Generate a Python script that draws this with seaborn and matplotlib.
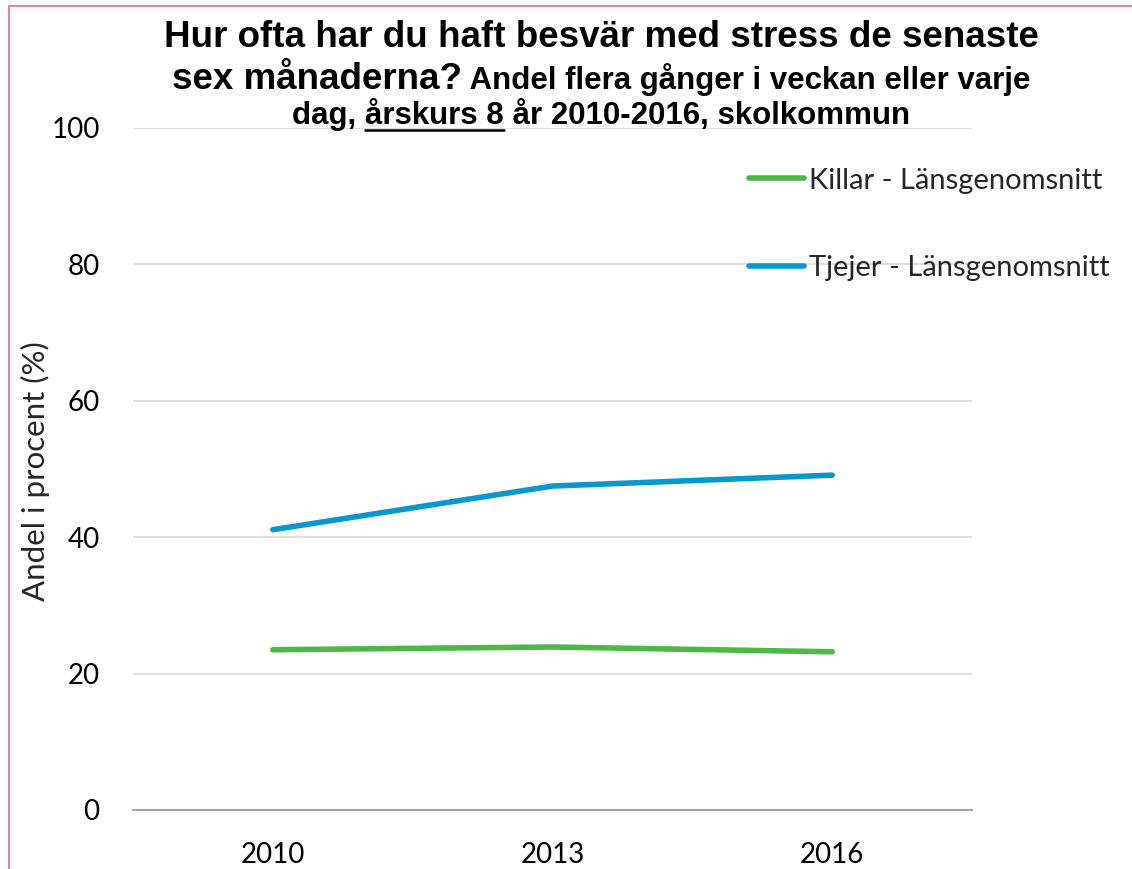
import matplotlib
matplotlib.use('Agg')
import matplotlib.pyplot as plt
import seaborn as sns
import pandas as pd
from matplotlib.lines import Line2D

# Data
years = ['2010', '2013', '2016']
killar = [23.5, 23.9, 23.2]
tjejer = [41.1, 47.5, 49.1]
series_names = ['Killar - Länsgenomsnitt', 'Tjejer - Länsgenomsnitt']
colors = ['#4DB848', '#0798CE']
y_ticks = [0, 20, 40, 60, 80, 100]

df = pd.DataFrame({
    'År': years * 2,
    'Andel': killar + tjejer,
    'Grupp': [series_names[0]] * len(years) + [series_names[1]] * len(years),
})

sns.set_theme(style='white')
plt.rcParams['font.family'] = ['Lato', 'DejaVu Sans']

W, H = 1132, 869
fig = plt.figure(figsize=(W / 100, H / 100), dpi=100)
ax = fig.add_axes([133 / W, 1 - 810 / H, (972 - 133) / W, (810 - 128) / H])

sns.lineplot(data=df, x='År', y='Andel', hue='Grupp', palette=colors,
             linewidth=4, sort=False, ax=ax, legend=False)

ax.set_xlim(-0.5, len(years) - 0.5)
ax.set_ylim(0, 100)
ax.set_yticks(y_ticks)
ax.set_xticks(range(len(years)))
ax.set_xticklabels(years)
ax.set_xticks([i - 0.5 for i in range(len(years) + 1)], minor=True)
ax.yaxis.grid(True, color='#d9d9d9', linewidth=1.2)
ax.set_axisbelow(True)
for s in ['left', 'top', 'right']:
    ax.spines[s].set_visible(False)
ax.spines['bottom'].set_color('#a6a6a6')
ax.spines['bottom'].set_linewidth(1.5)
ax.tick_params(axis='y', length=0, pad=24, labelsize=20, labelcolor='black')
ax.tick_params(axis='x', which='major', length=0, pad=23, labelsize=20, labelcolor='black')
ax.tick_params(axis='x', which='minor', length=7.5, width=1.2, color='#a6a6a6', direction='out')
ax.set_xlabel('')
ax.set_ylabel('Andel i procent (%)', fontsize=22.5, va='center')
ax.yaxis.set_label_coords((35 - 133) / (972 - 133), (810 - 471) / (810 - 128))

handles = [Line2D([], [], color=c, linewidth=4, solid_capstyle='round') for c in colors]
ax.legend(handles, series_names, loc='upper left',
          bbox_to_anchor=(737 / W, 1 - 156 / H), bbox_transform=fig.transFigure,
          frameon=False, fontsize=21, handlelength=1.9, handletextpad=0.17,
          labelspacing=2.1, borderaxespad=0)

# Title with mixed sizes
tfont = dict(family='Liberation Sans', weight='bold', color='black')
big, small = 26.5, 22.5
cx = 601 / W
fig.text(cx, 1 - 47 / H, 'Hur ofta har du haft besvär med stress de senaste',
         ha='center', va='baseline', fontsize=big, **tfont)

renderer = fig.canvas.get_renderer()

def place_row(parts, y):
    texts = [fig.text(0, y, p, ha='left', va='baseline', fontsize=s, **tfont) for p, s in parts]
    widths = [t.get_window_extent(renderer).width / W for t in texts]
    x = cx - sum(widths) / 2
    for t, w in zip(texts, widths):
        t.set_x(x)
        x += w
    return texts

place_row([('sex månaderna?', big), (' Andel flera gånger i veckan eller varje', small)], 1 - 89 / H)
row3 = place_row([('dag, ', small), ('årskurs 8', small), (' år 2010-2016, skolkommun', small)], 1 - 124 / H)
bb = row3[1].get_window_extent(renderer)
uy = 1 - 130 / H
fig.add_artist(Line2D([bb.x0 / W, bb.x1 / W], [uy, uy], color='black', linewidth=1.8,
                      transform=fig.transFigure))

# Pink frame
pink = '#EE7FAA'
fig.add_artist(Line2D([9 / W, 9 / W], [0, 1 - 6 / H], color=pink, linewidth=1.5, transform=fig.transFigure))
fig.add_artist(Line2D([9 / W, 1], [1 - 6 / H, 1 - 6 / H], color=pink, linewidth=1.5, transform=fig.transFigure))

fig.savefig('out.png', dpi=100, facecolor='white')
